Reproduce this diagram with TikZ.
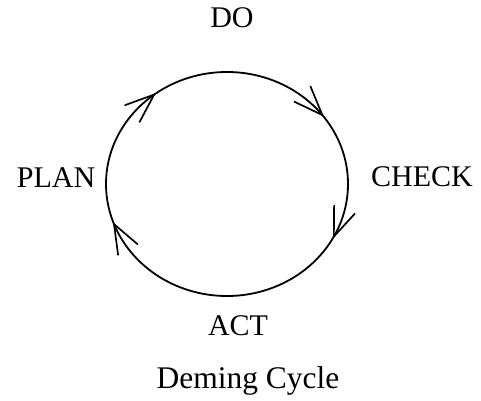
\documentclass[tikz,border=0pt]{standalone}
\usepackage{fontspec}
\setmainfont{Liberation Serif}
\usetikzlibrary{calc}
\begin{document}
\begin{tikzpicture}[x=1pt,y=1pt,
  lbl/.style={inner sep=0pt, anchor=base, font=\fontsize{30}{34}\selectfont},
  ring/.style={line width=1.8pt},
  barb/.style={line width=1.7pt, line cap=round}]
\useasboundingbox (0,0) rectangle (481,400);
\fill[white] (0,0) rectangle (481,400);
\coordinate (c) at (227,216);
\draw[ring] (c) ellipse [x radius=121pt, y radius=112pt];
\node[lbl] (do) at (232,372) {DO};
\node[lbl] (plan) at (56,213) {PLAN};
\node[lbl] (check) at (422,214) {CHECK};
\node[lbl] (act) at (238,65) {ACT};
\node[lbl, font=\fontsize{31.5}{36}\selectfont] (title) at (248,12) {Deming Cycle};
\foreach \t/\a/\n in {127/221/a, 38/133.5/b, -28/68.5/cc, 201/298.5/d} {
  \coordinate (tip\n) at ($(c)+(\t:121pt and 112pt)$);
  \draw[barb] (tip\n) -- ++(\a+21:31pt);
  \draw[barb] (tip\n) -- ++(\a-21:31pt);
}
\end{tikzpicture}
\end{document}
